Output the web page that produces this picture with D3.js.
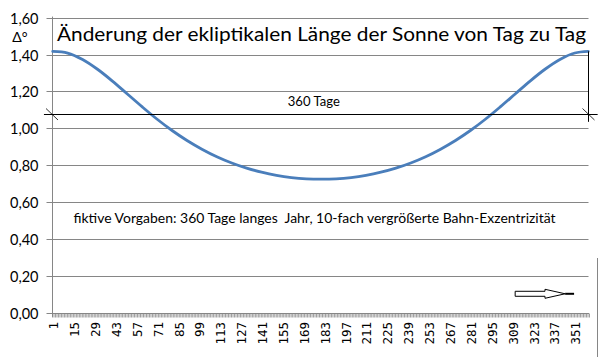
<!DOCTYPE html>
<html>
<head>
<meta charset="utf-8">
<script src="https://cdn.jsdelivr.net/npm/d3@7"></script>
<style>
  html, body { margin: 0; padding: 0; background: #fff; }
  svg { display: block; }
  text { white-space: pre; }
</style>
</head>
<body>
<svg id="chart" width="599" height="357"></svg>
<script>
// ---- data ----
const days = [1, 11, 21, 31, 41, 51, 61, 71, 81, 91, 101, 111, 121, 131, 141, 151, 161, 171, 181,
              191, 201, 211, 221, 231, 241, 251, 261, 271, 281, 291, 301, 311, 321, 331, 341, 351, 360];
const dLambda = [1.417, 1.408, 1.373, 1.320, 1.256, 1.186, 1.116, 1.049, 0.988, 0.934, 0.887, 0.846,
                 0.812, 0.784, 0.762, 0.745, 0.733, 0.726, 0.724, 0.726, 0.733, 0.745, 0.762, 0.784,
                 0.812, 0.846, 0.887, 0.934, 0.988, 1.049, 1.116, 1.186, 1.256, 1.320, 1.373, 1.408, 1.417];
const yTicks = [0, 0.2, 0.4, 0.6, 0.8, 1.0, 1.2, 1.4, 1.6];
const xTickLabels = [1, 15, 29, 43, 57, 71, 85, 99, 113, 127, 141, 155, 169, 183, 197, 211, 225,
                     239, 253, 267, 281, 295, 309, 323, 337, 351];
const nDays = 360;
const titleText = "Änderung der ekliptikalen Länge der Sonne von Tag zu Tag";
const yLabel = "Δ°";
const noteText = "fiktive Vorgaben: 360 Tage langes  Jahr, 10-fach vergrößerte Bahn-Exzentrizität";
const spanLabel = "360 Tage";
// annotation (dimension line) in data units
const spanValue = 1.08;
const spanFrom = -4.9, spanTo = 366.3;
const markerDay = 360, markerTop = 1.417, markerBottom = 1.035;

// ---- scales ----
const svg = d3.select("#chart");
const x = d3.scaleLinear().domain([0.5, nDays + 0.5]).range([52, 589]);
const y = d3.scaleLinear().domain([0, 1.6]).range([312.8, 17.6]);
const grid = "#868686";

// gridlines
svg.append("g").selectAll("line").data(yTicks.filter(v => v > 0)).join("line")
  .attr("x1", x(0.5)).attr("x2", x(nDays + 0.5) - 0.5)
  .attr("y1", d => Math.round(y(d)) + 0.5).attr("y2", d => Math.round(y(d)) + 0.5)
  .attr("stroke", grid).attr("stroke-width", 1);

// y axis
const yAxis = svg.append("g").attr("transform", `translate(${Math.round(x(0.5)) + 0.5},0)`)
  .call(d3.axisLeft(y).tickValues(yTicks).tickSize(6).tickPadding(8)
    .tickFormat(d => d3.format(".2f")(d).replace(".", ",")));
yAxis.select(".domain").attr("stroke", grid).attr("d", `M0,${y(1.6) - 1}V${y(0) + 4}`);
yAxis.selectAll(".tick line").attr("stroke", grid);
yAxis.selectAll(".tick").attr("transform", d => `translate(0,${Math.round(y(d)) + 0.5})`);
yAxis.selectAll(".tick text").attr("font-family", "Lato, 'Open Sans', sans-serif")
  .attr("font-size", 14.5).attr("fill", "#000").attr("dy", "0.36em");

// x axis: tick marks at every category boundary
const xAxis = svg.append("g").attr("transform", `translate(0,${Math.round(y(0)) + 0.5})`)
  .call(d3.axisBottom(x).tickValues(d3.range(0.5, nDays + 1, 1)).tickSize(4).tickFormat(""));
xAxis.select(".domain").attr("stroke", grid).attr("d", `M${x(0.5)},0H${x(nDays + 0.5)}`);
xAxis.selectAll(".tick line").attr("stroke", grid).attr("stroke-width", 0.8);

// x tick labels (rotated)
svg.append("g").selectAll("text").data(xTickLabels).join("text")
  .attr("transform", d => `translate(${x(d) + 1},322) rotate(-90)`)
  .attr("text-anchor", "end").attr("dy", "0.36em")
  .attr("font-family", "'DejaVu Sans Mono', monospace").attr("font-size", 12.5)
  .attr("fill", "#000").text(d => d);

// curve
const line = d3.line().x((d, i) => x(days[i])).y(d => y(d)).curve(d3.curveCatmullRom.alpha(0.5));
svg.append("path").datum(dLambda).attr("d", line)
  .attr("fill", "none").attr("stroke", "#4a7ebb").attr("stroke-width", 2.8)
  .attr("stroke-linejoin", "round").attr("stroke-linecap", "round");

// dimension line annotation
const ys = Math.round(y(spanValue)) + 0.5;
svg.append("line").attr("x1", x(spanFrom)).attr("x2", x(spanTo)).attr("y1", ys).attr("y2", ys)
  .attr("stroke", "#000").attr("stroke-width", 1);
const xm = Math.round(x(markerDay)) + 0.5;
svg.append("line").attr("x1", xm).attr("x2", xm).attr("y1", y(markerTop)).attr("y2", y(markerBottom))
  .attr("stroke", "#000").attr("stroke-width", 1);
[x(0.5), xm].forEach(cx => {
  svg.append("line").attr("x1", cx - 6).attr("y1", ys - 6).attr("x2", cx + 6).attr("y2", ys + 5.5)
    .attr("stroke", "#000").attr("stroke-width", 0.8);
});
svg.append("text").attr("x", x(176)).attr("y", ys - 9).attr("text-anchor", "middle")
  .attr("font-family", "Lato, 'Open Sans', sans-serif").attr("font-size", 13)
  .attr("textLength", 52).attr("lengthAdjust", "spacingAndGlyphs").text(spanLabel);

// title
svg.append("text").attr("x", 57).attr("y", 40.5)
  .attr("font-family", "Lato, 'Open Sans', sans-serif").attr("font-size", 19.5)
  .attr("textLength", 529).attr("lengthAdjust", "spacingAndGlyphs").attr("fill", "#000").text(titleText);

// y label
svg.append("text").attr("x", 20).attr("y", 42).attr("text-anchor", "middle")
  .attr("font-family", "Lato, 'Open Sans', sans-serif").attr("font-size", 14).text(yLabel);

// note
svg.append("text").attr("x", 73.5).attr("y", 222.5)
  .attr("font-family", "Lato, 'Open Sans', sans-serif").attr("font-size", 13)
  .attr("textLength", 482).attr("lengthAdjust", "spacingAndGlyphs").text(noteText);

// block arrow (decoration) placed via scales
const ax0 = x(311), ax1 = x(331), ax2 = x(344.5), ax3 = x(350.5), ay = y(0.103);
svg.append("path")
  .attr("d", `M${ax0},${ay - 2.5}H${ax1}V${ay - 4.5}L${ax2},${ay}L${ax1},${ay + 4.5}V${ay + 2.5}H${ax0}Z`)
  .attr("fill", "#fff").attr("stroke", "#000").attr("stroke-width", 1);
svg.append("line").attr("x1", ax2).attr("x2", ax3).attr("y1", ay).attr("y2", ay)
  .attr("stroke", "#000").attr("stroke-width", 2);

// right border fragment
svg.append("line").attr("x1", 597.5).attr("x2", 597.5).attr("y1", 258).attr("y2", 357)
  .attr("stroke", grid).attr("stroke-width", 1);
</script>
</body>
</html>
